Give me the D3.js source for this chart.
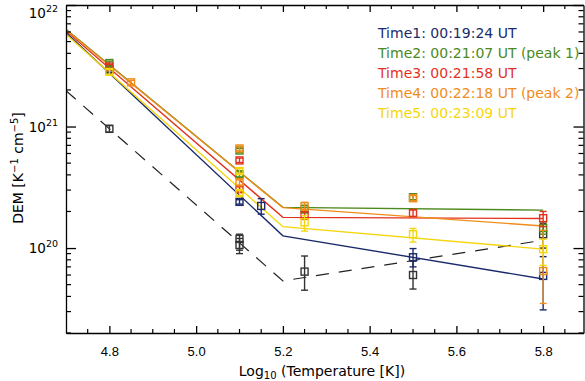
<!DOCTYPE html>
<html lang="en">
  <head>
    <meta charset="UTF-8" />
    <title>DEM</title>
    <script src="https://d3js.org/d3.v7.min.js"></script>
    <style>
      body { margin: 0; background: #fff; }
      svg { font-family: 'DejaVu Sans', sans-serif; }
      .axis path, .axis line { stroke: #000; stroke-width: 1.3; }
      .axis text { font-size: 13px; fill: #000; }
    </style>
  </head>
  <body>
    <div id="chart"></div>
    <script>
      // series
      const labels = [
        'Time1: 00:19:24 UT',
        'Time2: 00:21:07 UT (peak 1)',
        'Time3: 00:21:58 UT',
        'Time4: 00:22:18 UT (peak 2)',
        'Time5: 00:23:09 UT',
      ]
      const colors = ['#1b2a6b', '#4b8a1c', '#e2321e', '#f08d1a', '#f5d60c']

      // model lines, knots in log T
      const knots = [4.7, 5.2, 5.8]
      const lineT1 = [5.93e21, 1.26e20, 5.57e19]
      const lineT2 = [6.32e21, 2.16e20, 2.05e20]
      const lineT3 = [6.12e21, 1.79e20, 1.75e20]
      const lineT4 = [6.24e21, 2.15e20, 1.52e20]
      const lineT5 = [5.73e21, 1.5e20, 9.8e19]
      const lineRef = [1.97e21, 5.37e19, 1.16e20]

      // observed points: [logT, dem, low, high]
      const ptsRef = [
        [4.8, 9.57e20, 9.0e20, 1.02e21],
        [5.1, 1.19e20, 9.6e19, 1.3e20],
        [5.1, 1.06e20, 9.0e19, 1.2e20],
        [5.25, 6.4e19, 4.5e19, 8.6e19],
        [5.5, 6.0e19, 4.6e19, 7.8e19],
        [5.8, 1.3e20, 1.0e20, 1.6e20],
      ]
      const ptsT1 = [
        [4.8, 2.93e21, 2.8e21, 3.05e21],
        [5.1, 2.4e20, 2.3e20, 2.5e20],
        [5.15, 2.22e20, 1.9e20, 2.55e20],
        [5.5, 8.4e19, 7.0e19, 9.9e19],
        [5.8, 5.9e19, 3.1e19, 8.5e19],
      ]
      const ptsT2 = [
        [4.8, 3.33e21, 3.2e21, 3.45e21],
        [5.1, 6.35e20, 6.1e20, 6.6e20],
        [5.1, 4.05e20, 3.85e20, 4.25e20],
        [5.25, 2.09e20, 1.95e20, 2.25e20],
        [5.5, 2.62e20, 2.5e20, 2.75e20],
        [5.8, 1.46e20, 1.3e20, 1.65e20],
      ]
      const ptsT3 = [
        [4.8, 3.12e21, 3.0e21, 3.25e21],
        [5.1, 5.26e20, 5.05e20, 5.5e20],
        [5.1, 3.05e20, 2.9e20, 3.2e20],
        [5.25, 1.86e20, 1.72e20, 2.0e20],
        [5.5, 1.94e20, 1.82e20, 2.06e20],
        [5.8, 1.76e20, 1.5e20, 2.0e20],
      ]
      const ptsT4 = [
        [4.85, 2.31e21, 2.22e21, 2.4e21],
        [5.1, 6.6e20, 6.3e20, 6.9e20],
        [5.1, 3.48e20, 3.3e20, 3.65e20],
        [5.25, 2.21e20, 2.05e20, 2.38e20],
        [5.5, 2.57e20, 2.45e20, 2.7e20],
        [5.8, 6.47e19, 3.5e19, 1.4e20],
      ]
      const ptsT5 = [
        [4.8, 2.82e21, 2.7e21, 2.95e21],
        [5.1, 4.3e20, 4.1e20, 4.5e20],
        [5.1, 2.83e20, 2.7e20, 2.97e20],
        [5.25, 1.63e20, 1.38e20, 1.85e20],
        [5.5, 1.3e20, 1.12e20, 1.45e20],
        [5.8, 9.8e19, 7.2e19, 1.18e20],
      ]

      const xTicks = [4.8, 5.0, 5.2, 5.4, 5.6, 5.8]
      const yTicks = [1e20, 1e21, 1e22]

      const lines = [lineT1, lineT2, lineT3, lineT4, lineT5]
      const pts = [ptsT1, ptsT2, ptsT3, ptsT4, ptsT5]

      const width = 585
      const height = 381
      const mLeft = 66, mRight = 583.5, mTop = 5, mBottom = 333

      const x = d3.scaleLinear().domain([4.7, 5.893]).range([mLeft, mRight])
      const y = d3.scaleLog().domain([2e19, 1e22]).range([mBottom, mTop])

      const svg = d3
        .select('#chart')
        .append('svg')
        .attr('width', width)
        .attr('height', height)

      const plot = svg.append('g')
      plot.append('clipPath').attr('id', 'clip')
        .append('rect').attr('x', mLeft).attr('y', mTop)
        .attr('width', mRight - mLeft).attr('height', mBottom - mTop)

      const line = d3.line().x(d => x(d[0])).y(d => y(d[1]))

      // dashed reference line
      plot.append('path')
        .attr('d', line(knots.map((k, i) => [k, lineRef[i]])))
        .attr('fill', 'none').attr('stroke', '#222').attr('stroke-width', 1.2)
        .attr('stroke-dasharray', '13,10')
        .attr('clip-path', 'url(#clip)')

      lines.forEach((l, i) => {
        plot.append('path')
          .attr('d', line(knots.map((k, j) => [k, l[j]])))
          .attr('fill', 'none').attr('stroke', colors[i]).attr('stroke-width', 1.4)
          .attr('clip-path', 'url(#clip)')
      })

      function drawPoints(data, color) {
        const g = plot.append('g').attr('stroke', color).attr('fill', 'none').attr('stroke-width', 1.4)
        data.forEach(d => {
          const cx = x(d[0])
          g.append('line').attr('x1', cx).attr('x2', cx).attr('y1', y(d[2])).attr('y2', y(d[3]))
          g.append('line').attr('x1', cx - 3.5).attr('x2', cx + 3.5).attr('y1', y(d[2])).attr('y2', y(d[2]))
          g.append('line').attr('x1', cx - 3.5).attr('x2', cx + 3.5).attr('y1', y(d[3])).attr('y2', y(d[3]))
          g.append('rect').attr('x', cx - 3.5).attr('y', y(d[1]) - 3.5).attr('width', 7).attr('height', 7)
        })
      }
      drawPoints(ptsRef, '#333')
      pts.forEach((p, i) => drawPoints(p, colors[i]))

      // axes
      const xMinor = d3.range(4.75, 5.89, 0.05).filter(v => Math.abs(Math.round(v * 5) - v * 5) > 0.01)
      const yMinor = []
      ;[19, 20, 21].forEach(e => d3.range(2, 10).forEach(m => {
        const v = m * Math.pow(10, e)
        if (v >= 2e19 && v < 1e22) yMinor.push(v)
      }))

      svg.append('g').attr('class', 'axis').attr('transform', `translate(0,${mBottom})`)
        .call(d3.axisBottom(x).tickValues(xTicks).tickFormat(d3.format('.1f')).tickSizeInner(-7).tickSizeOuter(0).tickPadding(14))
      svg.append('g').attr('class', 'axis').attr('transform', `translate(0,${mTop})`)
        .call(d3.axisTop(x).tickValues(xTicks).tickFormat('').tickSizeInner(-7).tickSizeOuter(0))
      svg.append('g').attr('class', 'axis').attr('transform', `translate(${mLeft},0)`)
        .call(d3.axisLeft(y).tickValues(yTicks).tickFormat('').tickSizeInner(-10).tickSizeOuter(0))
      svg.append('g').attr('class', 'axis').attr('transform', `translate(${mRight},0)`)
        .call(d3.axisRight(y).tickValues(yTicks).tickFormat('').tickSizeInner(-10).tickSizeOuter(0))

      const minor = svg.append('g').attr('stroke', '#000').attr('stroke-width', 1.2)
      xMinor.forEach(v => {
        minor.append('line').attr('x1', x(v)).attr('x2', x(v)).attr('y1', mBottom).attr('y2', mBottom - 4)
        minor.append('line').attr('x1', x(v)).attr('x2', x(v)).attr('y1', mTop).attr('y2', mTop + 4)
      })
      yMinor.forEach(v => {
        minor.append('line').attr('x1', mLeft).attr('x2', mLeft + 5).attr('y1', y(v)).attr('y2', y(v))
        minor.append('line').attr('x1', mRight).attr('x2', mRight - 5).attr('y1', y(v)).attr('y2', y(v))
      })

      // y tick labels 10^n
      yTicks.forEach(v => {
        const t = svg.append('text').attr('x', mLeft - 8).attr('y', Math.max(y(v) + 5, 18))
          .attr('text-anchor', 'end').attr('font-size', 13.5)
        t.append('tspan').text('10')
        t.append('tspan').attr('dy', -6).attr('font-size', 9.5).text(Math.round(Math.log10(v)))
      })

      // titles
      svg.append('text').attr('x', 322).attr('y', 376).attr('text-anchor', 'middle').attr('font-size', 14)
        .call(t => {
          t.append('tspan').text('Log')
          t.append('tspan').attr('dy', 3).attr('font-size', 10).text('10')
          t.append('tspan').attr('dy', -3).text(' (Temperature [K])')
        })
      svg.append('text').attr('transform', 'translate(23,168) rotate(-90)').attr('text-anchor', 'middle').attr('font-size', 14)
        .call(t => {
          t.append('tspan').text('DEM [K')
          t.append('tspan').attr('dy', -5).attr('font-size', 10).text('−1')
          t.append('tspan').attr('dy', 5).text(' cm')
          t.append('tspan').attr('dy', -5).attr('font-size', 10).text('−5')
          t.append('tspan').attr('dy', 5).text(']')
        })

      // legend
      labels.forEach((l, i) => {
        svg.append('text').attr('x', 378).attr('y', 38 + i * 20).attr('font-size', 14)
          .attr('fill', colors[i]).text(l)
      })
    </script>
  </body>
</html>
